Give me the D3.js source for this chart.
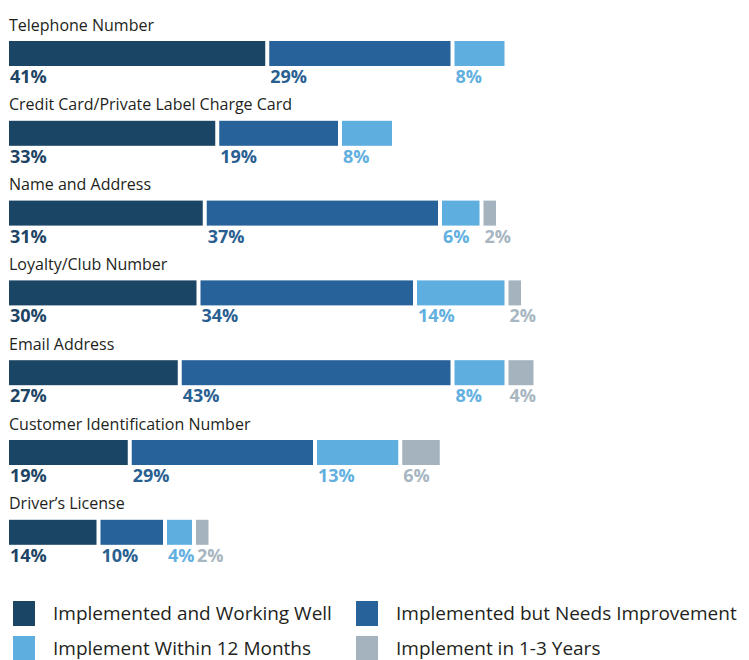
<!DOCTYPE html>
<html>
<head>
<meta charset="utf-8">
<script src="https://cdn.jsdelivr.net/npm/d3@7"></script>
<style>
  html, body { margin: 0; padding: 0; background: #ffffff; }
  svg { display: block; }
  text { font-family: "Open Sans", "Noto Sans", sans-serif; }
</style>
</head>
<body>
<svg id="chart" width="749" height="660"></svg>
<script>
// Identification methods and the share of respondents at each implementation stage
const categories = [
  "Telephone Number",
  "Credit Card/Private Label Charge Card",
  "Name and Address",
  "Loyalty/Club Number",
  "Email Address",
  "Customer Identification Number",
  "Driver\u2019s License"
];
const workingWell      = [41, 33, 31, 30, 27, 19, 14];
const needsImprovement = [29, 19, 37, 34, 43, 29, 10];
const within12Months   = [8, 8, 6, 14, 8, 13, 4];
const in1to3Years      = [0, 0, 2, 2, 4, 6, 2];

const seriesNames = [
  "Implemented and Working Well",
  "Implemented but Needs Improvement",
  "Implement Within 12 Months",
  "Implement in 1-3 Years"
];
const seriesValues = [workingWell, needsImprovement, within12Months, in1to3Years];
const barColors   = ["#1b4564", "#27629a", "#5eafe0", "#a4b3be"];
const labelColors = ["#1d4465", "#2a5f92", "#62b0e0", "#a8b6c1"];

const svg = d3.select("#chart");

const left = 9;
const gap = 4;
const barH = 25;

const x = d3.scaleLinear().domain([0, 100]).range([0, 625]);
const y = d3.scaleBand().domain(categories).range([28, 28 + 7 * 79.8]).padding(0);

categories.forEach((cat, i) => {
  const g = svg.append("g").attr("transform", `translate(0,${y(cat)})`);

  g.append("text")
    .attr("x", left)
    .attr("y", 2.5)
    .attr("font-size", 16)
    .attr("fill", "#231f20")
    .text(cat);

  let pos = left;
  seriesValues.forEach((vals, s) => {
    const v = vals[i];
    if (!v) return;
    const w = x(v);
    g.append("rect")
      .attr("x", pos)
      .attr("y", 13)
      .attr("width", w)
      .attr("height", barH)
      .attr("fill", barColors[s]);
    g.append("text")
      .attr("x", pos + 1)
      .attr("y", 13 + barH + 17)
      .attr("font-size", 18)
      .attr("font-weight", 700)
      .attr("fill", labelColors[s])
      .text(v + "%");
    pos += w + gap;
  });
});

// Legend, two columns by two rows
const legendX = [13, 356];
const legendY = [601, 636];
seriesNames.forEach((name, s) => {
  const lg = svg.append("g")
    .attr("transform", `translate(${legendX[s % 2]},${legendY[Math.floor(s / 2)]})`);
  lg.append("rect")
    .attr("width", 22)
    .attr("height", 25)
    .attr("fill", barColors[s]);
  lg.append("text")
    .attr("x", 40)
    .attr("y", 19)
    .attr("font-size", 19)
    .attr("fill", "#231f20")
    .text(name);
});
</script>
</body>
</html>
